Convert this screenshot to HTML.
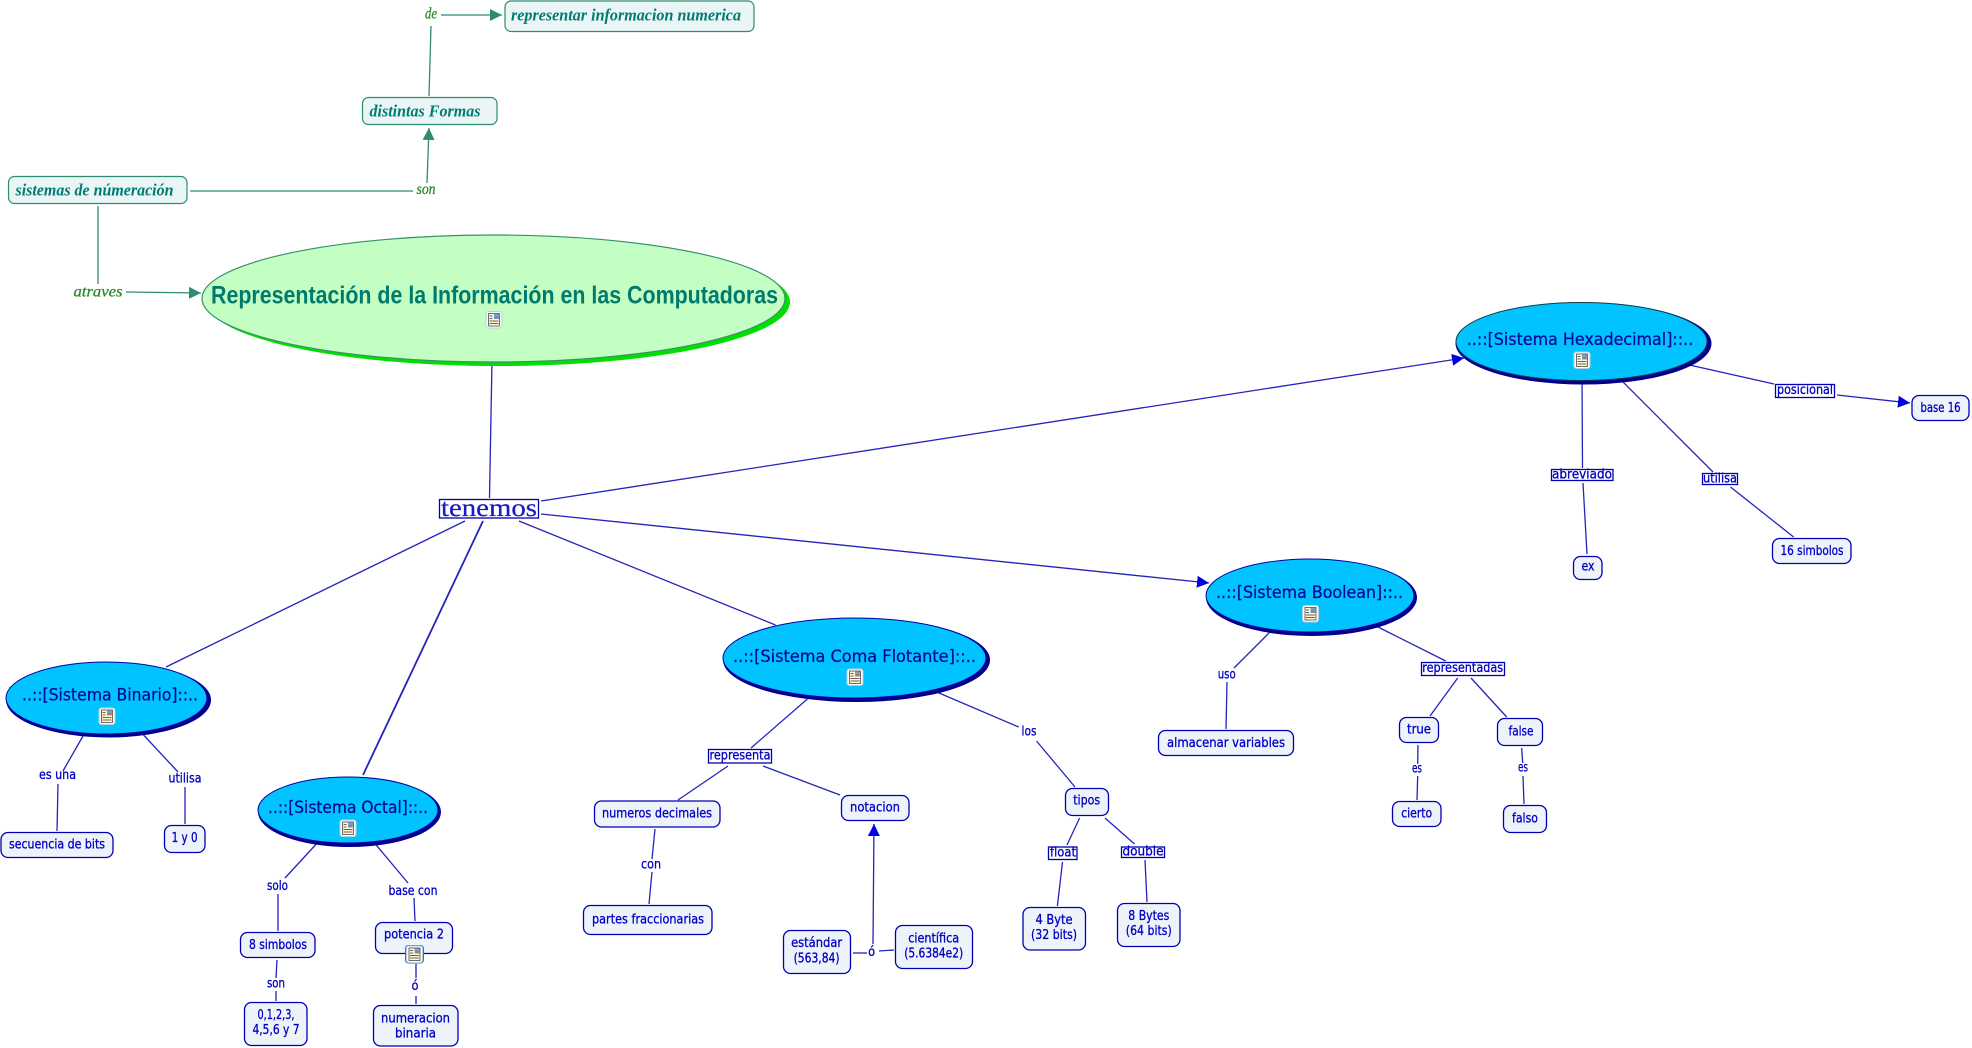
<!DOCTYPE html>
<html><head><meta charset="utf-8"><title>Representación de la Información</title>
<style>
html,body{margin:0;padding:0;background:#fff;width:1972px;height:1048px;overflow:hidden}
svg{display:block}
text{text-anchor:middle;dominant-baseline:central}
.l{font:13px "DejaVu Sans",sans-serif;fill:#0000c4;stroke:#0000c4;stroke-width:.3}
.h{font:17px "DejaVu Sans",sans-serif;fill:#000a96;stroke:#000a96;stroke-width:.25}
.t{font:italic bold 16.5px "Liberation Serif",serif;fill:#007a74}
.g{font:italic 16px "Liberation Serif",serif;fill:#2a8a2a;stroke:#2a8a2a;stroke-width:.3}
.b{fill:#edf3f9;stroke:#0000b4;stroke-width:1.3}
.m{fill:#eaf5f5;stroke:#2e8b6e;stroke-width:1.2}
.w{fill:#fff;stroke:#0000b4;stroke-width:1.3}
.c line{stroke:#2424bc;stroke-width:1.3}
.k line{stroke:#2e8b6e;stroke-width:1.3}
</style></head><body>
<svg width="1972" height="1048" viewBox="0 0 1972 1048" xmlns="http://www.w3.org/2000/svg">
<defs>
<marker id="ab" markerUnits="userSpaceOnUse" markerWidth="13" markerHeight="12" refX="12" refY="6" orient="auto"><polygon points="0,0 12,6 0,12" fill="#0000e0"/></marker>
<marker id="ag" markerUnits="userSpaceOnUse" markerWidth="13" markerHeight="12" refX="12" refY="6" orient="auto"><polygon points="0,0 12,6 0,12" fill="#2e8b6e"/></marker>
<g id="ic"><rect x="0" y="0" width="16" height="16.5" rx="2.5" fill="#fffdf0" stroke="#b8d0e0" stroke-width="1"/>
<rect x="2.5" y="2" width="11" height="12.5" fill="#fff8d8" stroke="#333" stroke-width=".7"/>
<rect x="8" y="2.5" width="5" height="5" fill="#6aa4d8"/><rect x="9" y="5" width="3" height="2" fill="#c07050"/>
<path d="M3.5 4.5h3M3.5 7h3M3.5 9.5h9M3.5 12h9" stroke="#333" stroke-width=".7"/></g>
</defs>

<!-- green connectors -->
<g class="k">
<line x1="441" y1="15" x2="502" y2="15" marker-end="url(#ag)"/>
<line x1="431" y1="26" x2="429" y2="96"/>
<line x1="427" y1="183" x2="429" y2="128" marker-end="url(#ag)"/>
<line x1="190" y1="191" x2="413" y2="191"/>
<line x1="98" y1="206" x2="98" y2="284"/>
<line x1="126" y1="292" x2="201" y2="293" marker-end="url(#ag)"/>
</g>

<!-- blue connectors -->
<g class="c">
<line x1="492" y1="360" x2="489.5" y2="498"/>
<line x1="541" y1="501" x2="1464" y2="358" marker-end="url(#ab)"/>
<line x1="541" y1="514" x2="1209" y2="583" marker-end="url(#ab)"/>
<line x1="465" y1="521" x2="166" y2="667"/>
<line x1="483" y1="521" x2="363" y2="775" style="stroke-width:1.8"/>
<line x1="519" y1="521" x2="775.5" y2="625"/>
<line x1="87" y1="729" x2="63" y2="771"/>
<line x1="58" y1="784" x2="57" y2="831"/>
<line x1="138" y1="729" x2="178" y2="772"/>
<line x1="185" y1="787" x2="185" y2="824"/>
<line x1="320" y1="840" x2="285" y2="878"/>
<line x1="278" y1="894" x2="278" y2="931"/>
<line x1="277" y1="960" x2="276" y2="978"/>
<line x1="276" y1="991" x2="276" y2="1001"/>
<line x1="372" y1="840" x2="408" y2="883"/>
<line x1="414" y1="898" x2="415" y2="921"/>
<line x1="416" y1="964" x2="416" y2="978"/>
<line x1="416" y1="996" x2="416" y2="1004"/>
<line x1="812" y1="695" x2="751" y2="748"/>
<line x1="728" y1="766" x2="678" y2="800"/>
<line x1="763" y1="766" x2="840" y2="795"/>
<line x1="655" y1="829" x2="652" y2="859"/>
<line x1="652" y1="872" x2="649" y2="904"/>
<line x1="873" y1="944" x2="874" y2="824" marker-end="url(#ab)"/>
<line x1="853" y1="953" x2="867" y2="953"/>
<line x1="879" y1="951" x2="894" y2="950"/>
<line x1="932" y1="690" x2="1018.7" y2="727"/>
<line x1="1036.5" y1="741" x2="1075" y2="787"/>
<line x1="1079.6" y1="818" x2="1067" y2="845"/>
<line x1="1105" y1="818" x2="1134.5" y2="844"/>
<line x1="1062.5" y1="862" x2="1057.4" y2="906"/>
<line x1="1145" y1="860" x2="1147" y2="902"/>
<line x1="1275" y1="627" x2="1234" y2="668"/>
<line x1="1227" y1="682" x2="1226" y2="729"/>
<line x1="1372" y1="624" x2="1445.7" y2="661"/>
<line x1="1457.7" y1="678" x2="1430" y2="716"/>
<line x1="1471" y1="678" x2="1506.7" y2="717"/>
<line x1="1418" y1="745" x2="1417.7" y2="764"/>
<line x1="1417.7" y1="776" x2="1417" y2="800"/>
<line x1="1521.7" y1="748" x2="1522.7" y2="763"/>
<line x1="1523" y1="776" x2="1524" y2="804"/>
<line x1="1685" y1="364" x2="1774" y2="384"/>
<line x1="1837" y1="395" x2="1910" y2="403" marker-end="url(#ab)"/>
<line x1="1582" y1="375" x2="1582.5" y2="468"/>
<line x1="1583" y1="483" x2="1587" y2="554"/>
<line x1="1618" y1="377" x2="1713" y2="472"/>
<line x1="1730.5" y1="487" x2="1793.6" y2="537"/>
</g>

<!-- main ellipse -->
<ellipse cx="498.5" cy="302" rx="291.5" ry="64" fill="#00e000"/>
<ellipse cx="493.5" cy="298.5" rx="291.5" ry="63.5" fill="#c3ffc3" stroke="#3a8f6a" stroke-width="1.2"/>
<text x="494.5" y="295.5" font-family="Liberation Sans" font-weight="bold" font-size="25" fill="#007a6c" textLength="567" lengthAdjust="spacingAndGlyphs">Representación de la Información en las Computadoras</text>
<use href="#ic" x="486" y="311.5"/>

<!-- blue ellipses -->
<ellipse cx="108.5" cy="700" rx="102.5" ry="37.5" fill="#00008c"/>
<ellipse cx="106.5" cy="698" rx="100.5" ry="36" fill="#00c3ff" stroke="#0000a8"/>
<text class="h" x="110" y="695.5" textLength="176" lengthAdjust="spacingAndGlyphs">..::[Sistema Binario]::..</text>
<use href="#ic" x="99" y="708"/>

<ellipse cx="349.5" cy="812" rx="91.5" ry="35" fill="#00008c"/>
<ellipse cx="348" cy="810" rx="90" ry="33" fill="#00c3ff" stroke="#0000a8"/>
<text class="h" x="348" y="808" textLength="160" lengthAdjust="spacingAndGlyphs">..::[Sistema Octal]::..</text>
<use href="#ic" x="340" y="820"/>

<ellipse cx="856.5" cy="660" rx="133.5" ry="42" fill="#00008c"/>
<ellipse cx="854.5" cy="658" rx="131.5" ry="40" fill="#00c3ff" stroke="#0000a8"/>
<text class="h" x="854.5" y="657" textLength="243" lengthAdjust="spacingAndGlyphs">..::[Sistema Coma Flotante]::..</text>
<use href="#ic" x="847" y="669"/>

<ellipse cx="1311.5" cy="597.5" rx="105.5" ry="38.5" fill="#00008c"/>
<ellipse cx="1310" cy="595.5" rx="104" ry="36.5" fill="#00c3ff" stroke="#0000a8"/>
<text class="h" x="1309.5" y="593" textLength="187" lengthAdjust="spacingAndGlyphs">..::[Sistema Boolean]::..</text>
<use href="#ic" x="1302.5" y="605.5"/>

<ellipse cx="1583.5" cy="343.5" rx="128" ry="41" fill="#00008c"/>
<ellipse cx="1581.5" cy="341.5" rx="125.5" ry="39" fill="#00c3ff" stroke="#0a3a50"/>
<text class="h" x="1580" y="340" textLength="226.5" lengthAdjust="spacingAndGlyphs">..::[Sistema Hexadecimal]::..</text>
<use href="#ic" x="1574" y="352"/>

<!-- teal boxes -->
<rect class="m" x="505" y="1" width="249" height="30.5" rx="6"/>
<text class="t" x="626" y="15" textLength="230" lengthAdjust="spacingAndGlyphs">representar informacion numerica</text>
<rect class="m" x="362.5" y="97.5" width="134.5" height="27" rx="6"/>
<text class="t" x="425" y="111" textLength="111" lengthAdjust="spacingAndGlyphs">distintas Formas</text>
<rect class="m" x="8.5" y="176.5" width="178.5" height="27" rx="6"/>
<text class="t" x="94.5" y="190" textLength="158" lengthAdjust="spacingAndGlyphs">sistemas de númeración</text>

<text class="g" x="431" y="14" textLength="12" lengthAdjust="spacingAndGlyphs">de</text>
<text class="g" x="426" y="189.5" textLength="19" lengthAdjust="spacingAndGlyphs">son</text>
<text class="g" x="98" y="292" textLength="49" lengthAdjust="spacingAndGlyphs">atraves</text>

<!-- tenemos -->
<rect class="w" x="439.5" y="499.5" width="99" height="18.5"/>
<text x="489" y="508.5" font-family="Liberation Serif" font-size="25" fill="#1a1ac8" stroke="#1a1ac8" stroke-width=".25" textLength="96" lengthAdjust="spacingAndGlyphs">tenemos</text>

<!-- node boxes -->
<rect class="b" x="1" y="832.5" width="112" height="25" rx="7"/>
<text class="l" x="57" y="845" textLength="96" lengthAdjust="spacingAndGlyphs">secuencia de bits</text>
<rect class="b" x="164.5" y="825.5" width="40.5" height="27" rx="7"/>
<text class="l" x="184.6" y="838.5" textLength="26" lengthAdjust="spacingAndGlyphs">1 y 0</text>
<rect class="b" x="240.5" y="932.5" width="74.5" height="25" rx="7"/>
<text class="l" x="278" y="945.5" textLength="58" lengthAdjust="spacingAndGlyphs">8 simbolos</text>
<rect class="b" x="244.5" y="1002.5" width="62.5" height="43" rx="7"/>
<text class="l" x="276" y="1015.5" textLength="37" lengthAdjust="spacingAndGlyphs">0,1,2,3,</text>
<text class="l" x="276" y="1030.5" textLength="47" lengthAdjust="spacingAndGlyphs">4,5,6 y 7</text>
<rect class="b" x="375.5" y="922.5" width="77" height="31" rx="7"/>
<text class="l" x="414" y="935" textLength="60" lengthAdjust="spacingAndGlyphs">potencia 2</text>
<rect x="405.5" y="945.5" width="18" height="17.5" rx="3" fill="#cfe4f4" stroke="#3a6ad8" stroke-width="1"/>
<use href="#ic" x="406.5" y="946"/>
<rect class="b" x="373.5" y="1005.5" width="84.5" height="40.5" rx="7"/>
<text class="l" x="415.5" y="1019" textLength="69" lengthAdjust="spacingAndGlyphs">numeracion</text>
<text class="l" x="415.5" y="1034" textLength="41" lengthAdjust="spacingAndGlyphs">binaria</text>

<rect class="b" x="594.5" y="801" width="125.5" height="26" rx="7"/>
<text class="l" x="657" y="814" textLength="110" lengthAdjust="spacingAndGlyphs">numeros decimales</text>
<rect class="b" x="583.5" y="905.5" width="128.5" height="29" rx="7"/>
<text class="l" x="648" y="920" textLength="112" lengthAdjust="spacingAndGlyphs">partes fraccionarias</text>
<rect class="b" x="841.5" y="795.5" width="67.5" height="25" rx="7"/>
<text class="l" x="875" y="808" textLength="50" lengthAdjust="spacingAndGlyphs">notacion</text>
<rect class="b" x="783.5" y="930.5" width="67" height="43" rx="7"/>
<text class="l" x="816.6" y="943.5" textLength="51" lengthAdjust="spacingAndGlyphs">estándar</text>
<text class="l" x="816.6" y="959" textLength="46" lengthAdjust="spacingAndGlyphs">(563,84)</text>
<rect class="b" x="895.5" y="925.5" width="77" height="43" rx="7"/>
<text class="l" x="933.7" y="939" textLength="51" lengthAdjust="spacingAndGlyphs">científica</text>
<text class="l" x="933.7" y="954" textLength="59" lengthAdjust="spacingAndGlyphs">(5.6384e2)</text>
<rect class="b" x="1065.5" y="788.5" width="43" height="27" rx="7"/>
<text class="l" x="1086.7" y="801" textLength="27" lengthAdjust="spacingAndGlyphs">tipos</text>
<rect class="b" x="1023" y="907.5" width="62.5" height="42.5" rx="7"/>
<text class="l" x="1054" y="920.5" textLength="37" lengthAdjust="spacingAndGlyphs">4 Byte</text>
<text class="l" x="1054" y="935.5" textLength="46" lengthAdjust="spacingAndGlyphs">(32 bits)</text>
<rect class="b" x="1117.5" y="903.5" width="62.5" height="43" rx="7"/>
<text class="l" x="1148.8" y="916.5" textLength="41" lengthAdjust="spacingAndGlyphs">8 Bytes</text>
<text class="l" x="1148.8" y="931.5" textLength="46" lengthAdjust="spacingAndGlyphs">(64 bits)</text>

<rect class="b" x="1158.5" y="730.5" width="135" height="25" rx="7"/>
<text class="l" x="1226" y="743.5" textLength="118" lengthAdjust="spacingAndGlyphs">almacenar variables</text>
<rect class="b" x="1399.5" y="717.5" width="39" height="25" rx="7"/>
<text class="l" x="1419" y="730" textLength="24" lengthAdjust="spacingAndGlyphs">true</text>
<rect class="b" x="1497.5" y="718.5" width="45" height="27" rx="7"/>
<text class="l" x="1521" y="732" textLength="25" lengthAdjust="spacingAndGlyphs">false</text>
<rect class="b" x="1392.5" y="801.5" width="48.5" height="25" rx="7"/>
<text class="l" x="1416.7" y="814" textLength="31" lengthAdjust="spacingAndGlyphs">cierto</text>
<rect class="b" x="1503.5" y="805.5" width="43" height="27" rx="7"/>
<text class="l" x="1525" y="819" textLength="26" lengthAdjust="spacingAndGlyphs">falso</text>

<rect class="b" x="1912" y="395.5" width="57" height="25" rx="7"/>
<text class="l" x="1940.5" y="408.5" textLength="40" lengthAdjust="spacingAndGlyphs">base 16</text>
<rect class="b" x="1573.5" y="556.5" width="28.5" height="23" rx="7"/>
<text class="l" x="1588" y="567" textLength="13" lengthAdjust="spacingAndGlyphs">ex</text>
<rect class="b" x="1772.5" y="538.5" width="78.5" height="25" rx="7"/>
<text class="l" x="1812" y="551.5" textLength="63" lengthAdjust="spacingAndGlyphs">16 simbolos</text>

<!-- boxed linking phrases -->
<rect class="w" x="708.5" y="749.5" width="63" height="13.5"/>
<text class="l" x="740" y="756" textLength="61" lengthAdjust="spacingAndGlyphs">representa</text>
<rect class="w" x="1048.5" y="847" width="28.5" height="12.5"/>
<text class="l" x="1063" y="853" textLength="26" lengthAdjust="spacingAndGlyphs">float</text>
<rect class="w" x="1121.5" y="847" width="43" height="10.5"/>
<text class="l" x="1143" y="852" textLength="41" lengthAdjust="spacingAndGlyphs">double</text>
<rect class="w" x="1421.5" y="662.5" width="83" height="13"/>
<text class="l" x="1462.7" y="668.5" textLength="81" lengthAdjust="spacingAndGlyphs">representadas</text>
<rect class="w" x="1775.5" y="384.5" width="59" height="13"/>
<text class="l" x="1805" y="390.5" textLength="56" lengthAdjust="spacingAndGlyphs">posicional</text>
<rect class="w" x="1551.5" y="469.5" width="61.5" height="11"/>
<text class="l" x="1582" y="475" textLength="60" lengthAdjust="spacingAndGlyphs">abreviado</text>
<rect class="w" x="1702.5" y="473.5" width="35" height="11"/>
<text class="l" x="1720" y="479" textLength="34" lengthAdjust="spacingAndGlyphs">utilisa</text>

<!-- plain linking phrases -->
<text class="l" x="57.5" y="775.5" textLength="37" lengthAdjust="spacingAndGlyphs">es una</text>
<text class="l" x="185" y="779" textLength="33" lengthAdjust="spacingAndGlyphs">utilisa</text>
<text class="l" x="277.5" y="886.5" textLength="21" lengthAdjust="spacingAndGlyphs">solo</text>
<text class="l" x="276" y="984" textLength="18" lengthAdjust="spacingAndGlyphs">son</text>
<text class="l" x="413" y="891.5" textLength="49" lengthAdjust="spacingAndGlyphs">base con</text>
<text class="l" x="415" y="986.5" textLength="7" lengthAdjust="spacingAndGlyphs">ó</text>
<text class="l" x="651" y="865" textLength="20" lengthAdjust="spacingAndGlyphs">con</text>
<text class="l" x="871.6" y="952.5" textLength="7" lengthAdjust="spacingAndGlyphs">ó</text>
<text class="l" x="1029" y="732" textLength="15" lengthAdjust="spacingAndGlyphs">los</text>
<text class="l" x="1226.7" y="675" textLength="18" lengthAdjust="spacingAndGlyphs">uso</text>
<text class="l" x="1417" y="769" textLength="10" lengthAdjust="spacingAndGlyphs">es</text>
<text class="l" x="1523" y="768" textLength="10" lengthAdjust="spacingAndGlyphs">es</text>
</svg>
</body></html>
